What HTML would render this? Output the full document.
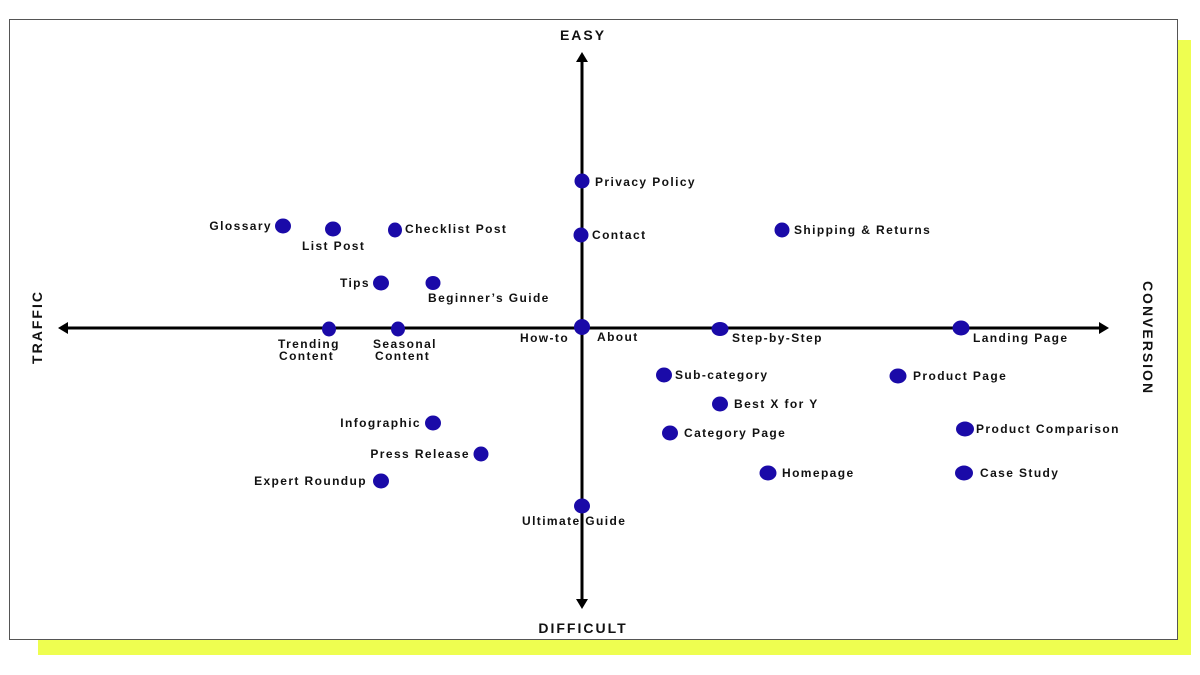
<!DOCTYPE html>
<html><head><meta charset="utf-8"><style>
html,body{margin:0;padding:0;background:#fff;}
svg{display:block}
text{font-family:"Liberation Sans",sans-serif;font-weight:bold;font-size:12px;letter-spacing:1.4px;fill:#111}
.ax{font-size:14px;letter-spacing:2px}
</style></head><body>
<svg width="1200" height="675" viewBox="0 0 1200 675">
<rect x="38" y="40" width="1153" height="615" fill="#eefe50"/>
<rect x="9.5" y="19.5" width="1168" height="620" fill="#fff" stroke="#555" stroke-width="1"/>
<g stroke="#000" stroke-width="3">
<line x1="66" y1="328" x2="1100" y2="328"/>
<line x1="582" y1="60" x2="582" y2="600"/>
</g>
<g fill="#000">
<polygon points="58,328 68,322 68,334"/>
<polygon points="1109,328 1099,322 1099,334"/>
<polygon points="582,52 576,62 588,62"/>
<polygon points="582,609 576,599 588,599"/>
</g>
<text class="ax" x="583" y="40" text-anchor="middle">EASY</text>
<text class="ax" x="583" y="633" text-anchor="middle">DIFFICULT</text>
<text class="ax" transform="translate(42,327) rotate(-90)" text-anchor="middle">TRAFFIC</text>
<text class="ax" transform="translate(1143,338) rotate(90)" text-anchor="middle">CONVERSION</text>
<g fill="#1a0aa8">
<ellipse cx="582" cy="181" rx="7.5" ry="7.5"/>
<ellipse cx="581" cy="235" rx="7.5" ry="7.5"/>
<ellipse cx="283" cy="226" rx="8" ry="7.5"/>
<ellipse cx="333" cy="229" rx="8" ry="7.5"/>
<ellipse cx="395" cy="230" rx="7" ry="7.5"/>
<ellipse cx="782" cy="230" rx="7.5" ry="7.5"/>
<ellipse cx="381" cy="283" rx="8" ry="7.5"/>
<ellipse cx="433" cy="283" rx="7.5" ry="7"/>
<ellipse cx="329" cy="329" rx="7" ry="7.5"/>
<ellipse cx="398" cy="329" rx="7" ry="7.5"/>
<ellipse cx="582" cy="327" rx="8" ry="8"/>
<ellipse cx="720" cy="329" rx="8.5" ry="7"/>
<ellipse cx="961" cy="328" rx="8.5" ry="7.5"/>
<ellipse cx="664" cy="375" rx="8" ry="7.5"/>
<ellipse cx="898" cy="376" rx="8.5" ry="7.5"/>
<ellipse cx="720" cy="404" rx="8" ry="7.5"/>
<ellipse cx="433" cy="423" rx="8" ry="7.5"/>
<ellipse cx="670" cy="433" rx="8" ry="7.5"/>
<ellipse cx="965" cy="429" rx="9" ry="7.5"/>
<ellipse cx="481" cy="454" rx="7.5" ry="7.5"/>
<ellipse cx="768" cy="473" rx="8.5" ry="7.5"/>
<ellipse cx="964" cy="473" rx="9" ry="7.5"/>
<ellipse cx="381" cy="481" rx="8" ry="7.5"/>
<ellipse cx="582" cy="506" rx="8" ry="7.5"/>
</g>
<text x="595" y="186">Privacy Policy</text>
<text x="592" y="239">Contact</text>
<text x="272" y="230" text-anchor="end">Glossary</text>
<text x="302" y="250">List Post</text>
<text x="405" y="233">Checklist Post</text>
<text x="794" y="234">Shipping &amp; Returns</text>
<text x="370" y="287" text-anchor="end">Tips</text>
<text x="428" y="302">Beginner’s Guide</text>
<text x="278" y="348">Trending</text>
<text x="279" y="360">Content</text>
<text x="373" y="348">Seasonal</text>
<text x="375" y="360">Content</text>
<text x="520" y="342">How-to</text>
<text x="597" y="341">About</text>
<text x="732" y="342">Step-by-Step</text>
<text x="973" y="342">Landing Page</text>
<text x="675" y="379">Sub-category</text>
<text x="913" y="380">Product Page</text>
<text x="734" y="408">Best X for Y</text>
<text x="421" y="427" text-anchor="end">Infographic</text>
<text x="684" y="437">Category Page</text>
<text x="976" y="433">Product Comparison</text>
<text x="470" y="458" text-anchor="end">Press Release</text>
<text x="782" y="477">Homepage</text>
<text x="980" y="477">Case Study</text>
<text x="367" y="485" text-anchor="end">Expert Roundup</text>
<text x="522" y="525">Ultimate Guide</text>
</svg>
</body></html>
